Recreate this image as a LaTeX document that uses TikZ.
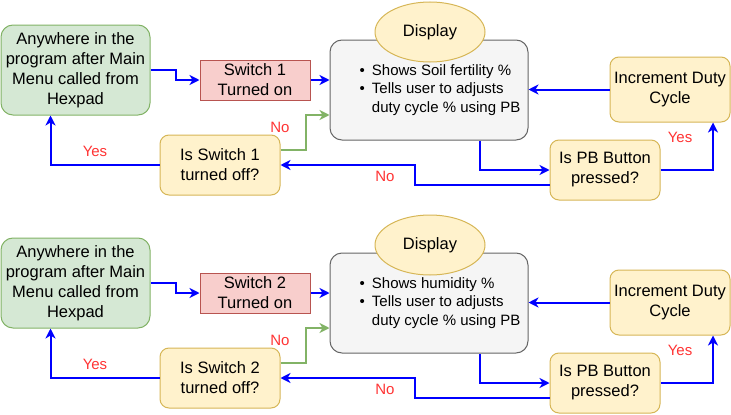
\documentclass[tikz,border=0pt]{standalone}
\usepackage{fontspec}
\setmainfont{Liberation Sans}
\usepackage{xcolor}
\usepackage{tikz}
\usetikzlibrary{arrows.meta}
\usetikzlibrary{shapes.geometric}
\definecolor{startfill}{HTML}{D5E8D4}
\definecolor{startline}{HTML}{82B366}
\definecolor{onfill}{HTML}{F8CECC}
\definecolor{online}{HTML}{B85450}
\definecolor{askfill}{HTML}{FFF2CC}
\definecolor{askline}{HTML}{D6B656}
\definecolor{showfill}{HTML}{F5F5F5}
\definecolor{showline}{HTML}{666666}
\definecolor{flowblue}{HTML}{0000FF}
\definecolor{answerred}{HTML}{FF3333}
\newcommand{\mainsize}{\fontsize{16.5}{20}\selectfont}
\newcommand{\listsize}{\fontsize{15}{18.5}\selectfont}
\tikzset{
start box/.style = { rectangle, draw = startline, fill = startfill, line width = 1pt, rounded corners = 12pt, minimum width = 149pt, minimum height = 90pt, align = center, inner sep = 0pt, font = \mainsize },
on box/.style = { rectangle, draw = online, fill = onfill, line width = 1pt, minimum width = 110pt, minimum height = 40pt, align = center, inner sep = 0pt, font = \mainsize },
show box/.style = { rectangle, draw = showline, fill = showfill, line width = 1pt, rounded corners = 12pt, minimum width = 198pt, minimum height = 100pt, align = left, inner sep = 0pt, font = \listsize },
title oval/.style = { ellipse, draw = askline, fill = askfill, line width = 1pt, minimum width = 110pt, minimum height = 60pt, inner sep = 0pt, font = \mainsize },
ask box/.style = { rectangle, draw = askline, fill = askfill, line width = 1pt, rounded corners = 9pt, minimum width = 110pt, minimum height = 60pt, align = center, inner sep = 0pt, font = \mainsize },
flow/.style = { draw = flowblue, line width = 2pt, -{Stealth[length = 10pt, width = 10pt, inset = 3pt]} },
back flow/.style = { flow, draw = startline },
answer/.style = { text = answerred, font = \listsize, inner sep = 0pt },
}

\begin{document}
\begin{tikzpicture}[x = 1pt, y = -1pt, line join = miter]
      \useasboundingbox (0, 0) rectangle (731, 415);
      % soil fertility
      \node[start box] (green1) at (75.5, 70) {Anywhere in the\\program after Main\\Menu called from\\Hexpad};
      \node[on box] (sw1) at (255, 80) {Switch 1\\Turned on};
      \node[show box] (disp1) at (429, 90) {\begin{tabular}{@{\hspace{22pt}}l@{\hspace{7pt}}l@{}}•&Shows Soil fertility \%\\•&Tells user to adjusts\\&duty cycle \% using PB\end{tabular}};
      \node[title oval] (title1) at (430, 32) {Display};
      \node[ask box, minimum width = 120pt, minimum height = 65pt] (inc1) at (670, 89.5) {Increment Duty\\Cycle};
      \node[ask box] (pb1) at (605, 170) {Is PB Button\\pressed?};
      \node[ask box, minimum width = 120pt] (off1) at (220, 165) {Is Switch 1\\turned off?};
      \draw[flow] (green1.east) -- ++(25, 0) |- (sw1.west);
      \draw[flow] (sw1.east) -- (sw1.east -| disp1.west);
      \draw[flow] (inc1.west) -- (inc1.west -| disp1.east);
      \draw[flow] ([xshift = 51pt]disp1.south) |- (pb1.west);
      \draw[flow] (pb1.east) -| ([xshift = 43pt]inc1.south);
      \draw[flow] ([yshift = -15pt]pb1.west) -- ++(-135, 0) |- (off1.east);
      \draw[back flow] ([yshift = 15pt]off1.east) -- ++(25, 0) |- ([yshift = -25pt]disp1.west);
      \draw[flow] (off1.west) -| ([xshift = -25pt]green1.south);
      \node[answer] (no1) at (280, 127) {No};
      \node[answer] (yes1) at (95, 151) {Yes};
      \node[answer] (no2) at (385, 176) {No};
      \node[answer] (yes2) at (680, 137) {Yes};
      % humidity
      \node[start box] (green2) at (75.5, 283) {Anywhere in the\\program after Main\\Menu called from\\Hexpad};
      \node[on box] (sw2) at (255, 293) {Switch 2\\Turned on};
      \node[show box] (disp2) at (429, 303) {\begin{tabular}{@{\hspace{22pt}}l@{\hspace{7pt}}l@{}}•&Shows humidity \%\\•&Tells user to adjusts\\&duty cycle \% using PB\end{tabular}};
      \node[title oval] (title2) at (430, 245) {Display};
      \node[ask box, minimum width = 120pt, minimum height = 65pt] (inc2) at (670, 302.5) {Increment Duty\\Cycle};
      \node[ask box] (pb2) at (605, 383) {Is PB Button\\pressed?};
      \node[ask box, minimum width = 120pt] (off2) at (220, 378) {Is Switch 2\\turned off?};
      \draw[flow] (green2.east) -- ++(25, 0) |- (sw2.west);
      \draw[flow] (sw2.east) -- (sw2.east -| disp2.west);
      \draw[flow] (inc2.west) -- (inc2.west -| disp2.east);
      \draw[flow] ([xshift = 51pt]disp2.south) |- (pb2.west);
      \draw[flow] (pb2.east) -| ([xshift = 43pt]inc2.south);
      \draw[flow] ([yshift = -15pt]pb2.west) -- ++(-135, 0) |- (off2.east);
      \draw[back flow] ([yshift = 15pt]off2.east) -- ++(25, 0) |- ([yshift = -25pt]disp2.west);
      \draw[flow] (off2.west) -| ([xshift = -25pt]green2.south);
      \node[answer] (no3) at (280, 340) {No};
      \node[answer] (yes3) at (95, 364) {Yes};
      \node[answer] (no4) at (385, 389) {No};
      \node[answer] (yes4) at (680, 350) {Yes};
\end{tikzpicture}
\end{document}
